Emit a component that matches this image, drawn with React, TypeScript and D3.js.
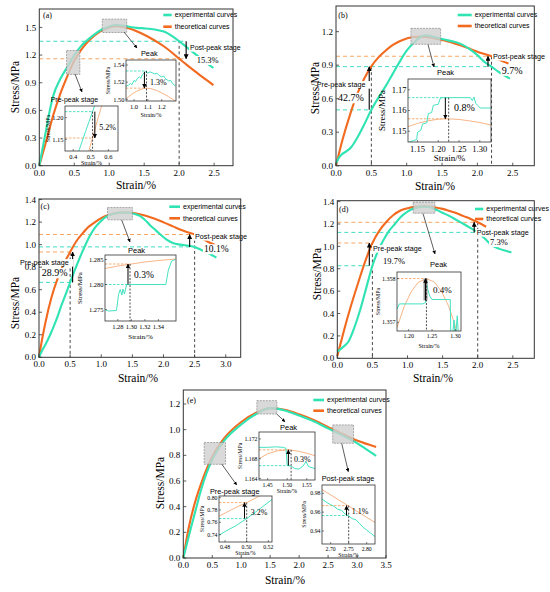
import React from 'react';
import * as d3 from 'd3';

type Pt = [number, number];

// ---------- panel (a) ----------
const expA: Pt[] = [[0,0],[0.05,0.2],[0.1,0.4],[0.15,0.6],[0.2,0.76],[0.3,0.94],[0.4,1.07],[0.5,1.2],[0.6,1.3],[0.7,1.37],[0.8,1.43],[0.9,1.48],[1.0,1.51],[1.1,1.527],[1.2,1.52],[1.3,1.505],[1.4,1.495],[1.5,1.49],[1.6,1.483],[1.7,1.47],[1.8,1.45],[1.9,1.405],[2.0,1.35],[2.1,1.29],[2.2,1.23],[2.3,1.17],[2.4,1.11],[2.49,1.06]];
const theoA: Pt[] = [[0,0],[0.1,0.27],[0.2,0.55],[0.3,0.78],[0.4,0.97],[0.5,1.14],[0.6,1.26],[0.7,1.35],[0.8,1.42],[0.9,1.47],[1.0,1.5],[1.1,1.513],[1.2,1.505],[1.3,1.485],[1.4,1.455],[1.5,1.42],[1.6,1.38],[1.7,1.335],[1.8,1.285],[1.9,1.225],[2.0,1.16],[2.1,1.1],[2.2,1.04],[2.3,0.98],[2.4,0.925],[2.49,0.875]];
const preExpA: Pt[] = [[0.41,1.098],[0.435,1.127],[0.47,1.168],[0.51,1.214],[0.53,1.237]];
const preTheoA: Pt[] = [[0.47,1.097],[0.49,1.125],[0.51,1.153],[0.535,1.19],[0.555,1.218],[0.565,1.232]];
const peakExpA: Pt[] = [[0.942,1.515],[0.96,1.5165],[0.975,1.5185],[0.985,1.517],[1.0,1.522],[1.01,1.5205],[1.025,1.5245],[1.04,1.526],[1.05,1.5245],[1.06,1.529],[1.075,1.531],[1.085,1.5325],[1.1,1.5305],[1.115,1.532],[1.13,1.531],[1.15,1.5295],[1.165,1.5305],[1.18,1.528],[1.2,1.526],[1.215,1.527],[1.23,1.5235],[1.25,1.5215],[1.265,1.522],[1.28,1.518],[1.3,1.5155]];
const peakTheoA: Pt[] = [[0.942,1.5005],[0.98,1.5055],[1.02,1.5095],[1.06,1.5122],[1.09,1.513],[1.12,1.5125],[1.16,1.5105],[1.2,1.5075],[1.25,1.503],[1.303,1.4975]];

// ---------- panel (b) ----------
const expB: Pt[] = [[0,0.02],[0.04,0.07],[0.08,0.1],[0.15,0.13],[0.22,0.17],[0.3,0.25],[0.4,0.37],[0.5,0.5],[0.6,0.61],[0.7,0.71],[0.8,0.82],[0.9,0.93],[1.0,1.03],[1.1,1.1],[1.2,1.155],[1.25,1.166],[1.3,1.165],[1.4,1.15],[1.5,1.135],[1.6,1.12],[1.7,1.105],[1.8,1.08],[1.9,1.04],[2.0,0.99],[2.1,0.93],[2.2,0.887],[2.3,0.84],[2.46,0.78]];
const theoB: Pt[] = [[0,0],[0.05,0.13],[0.1,0.25],[0.2,0.46],[0.3,0.64],[0.4,0.78],[0.5,0.89],[0.6,0.97],[0.7,1.03],[0.8,1.08],[0.9,1.115],[1.0,1.14],[1.1,1.153],[1.22,1.156],[1.3,1.15],[1.4,1.14],[1.5,1.125],[1.6,1.11],[1.7,1.09],[1.8,1.07],[1.9,1.045],[2.0,1.02],[2.1,1.0],[2.2,0.98],[2.3,0.95],[2.44,0.915]];
const peakExpB: Pt[] = [[1.13,1.1448],[1.14,1.1455],[1.148,1.146],[1.15,1.1495],[1.158,1.1505],[1.162,1.1535],[1.172,1.154],[1.176,1.1585],[1.184,1.159],[1.188,1.1625],[1.2,1.163],[1.205,1.166],[1.212,1.1662],[1.277,1.1662],[1.282,1.1648],[1.286,1.1665],[1.29,1.1635],[1.295,1.1625],[1.301,1.1612],[1.326,1.1612]];
const peakTheoB: Pt[] = [[1.127,1.1522],[1.15,1.1538],[1.175,1.155],[1.2,1.1558],[1.22,1.156],[1.25,1.1557],[1.275,1.155],[1.3,1.1542],[1.327,1.153]];

// ---------- panel (c) ----------
const expC: Pt[] = [[0,0],[0.05,0.06],[0.1,0.11],[0.18,0.2],[0.27,0.32],[0.36,0.46],[0.43,0.56],[0.5,0.665],[0.58,0.78],[0.66,0.89],[0.74,0.99],[0.82,1.08],[0.9,1.15],[0.98,1.2],[1.1,1.255],[1.2,1.275],[1.35,1.285],[1.45,1.283],[1.55,1.27],[1.62,1.255],[1.7,1.22],[1.78,1.175],[1.84,1.145],[1.95,1.09],[2.05,1.045],[2.15,1.015],[2.27,1.0],[2.4,0.99],[2.5,0.98],[2.6,0.955],[2.7,0.93],[2.85,0.885]];
const theoC: Pt[] = [[0,0],[0.05,0.16],[0.1,0.3],[0.2,0.53],[0.3,0.7],[0.4,0.83],[0.5,0.935],[0.6,1.03],[0.7,1.1],[0.8,1.16],[0.9,1.2],[1.0,1.235],[1.1,1.26],[1.2,1.275],[1.3,1.284],[1.4,1.285],[1.5,1.282],[1.6,1.272],[1.7,1.258],[1.8,1.24],[1.9,1.22],[2.0,1.198],[2.1,1.175],[2.2,1.15],[2.3,1.127],[2.4,1.107],[2.5,1.09],[2.6,1.06],[2.7,1.03],[2.85,0.99]];
const peakExpC: Pt[] = [[1.262,1.2749],[1.266,1.2747],[1.278,1.2748],[1.281,1.278],[1.2835,1.279],[1.286,1.2779],[1.2875,1.2791],[1.2898,1.2781],[1.293,1.28],[1.351,1.28],[1.3547,1.2829],[1.3596,1.2847],[1.365,1.285]];
const peakTheoC: Pt[] = [[1.261,1.2832],[1.28,1.2837],[1.3,1.2841],[1.32,1.2845],[1.34,1.2848],[1.366,1.2851]];

// ---------- panel (d) ----------
const expD: Pt[] = [[0,0.06],[0.08,0.1],[0.16,0.15],[0.24,0.27],[0.32,0.42],[0.4,0.6],[0.5,0.827],[0.58,0.96],[0.66,1.06],[0.74,1.14],[0.82,1.2],[0.9,1.26],[1.0,1.31],[1.1,1.34],[1.2,1.355],[1.3,1.352],[1.4,1.33],[1.5,1.3],[1.6,1.27],[1.7,1.235],[1.8,1.2],[1.9,1.163],[2.0,1.125],[2.1,1.07],[2.2,1.01],[2.3,0.98],[2.4,0.96],[2.48,0.945]];
const theoD: Pt[] = [[0,0.02],[0.05,0.14],[0.1,0.26],[0.2,0.48],[0.3,0.68],[0.4,0.87],[0.5,1.03],[0.6,1.14],[0.7,1.22],[0.8,1.28],[0.9,1.32],[1.0,1.34],[1.1,1.353],[1.24,1.358],[1.3,1.356],[1.4,1.348],[1.5,1.335],[1.6,1.315],[1.7,1.295],[1.8,1.27],[1.9,1.245],[2.0,1.215],[2.12,1.175]];
const peakExpD: Pt[] = [[1.175,1.3573],[1.18,1.35742],[1.23,1.35742],[1.236,1.35745],[1.238,1.35795],[1.241,1.35775],[1.245,1.3576],[1.25,1.35752],[1.289,1.35752],[1.29,1.3568],[1.293,1.3566],[1.297,1.35705],[1.3,1.3566],[1.304,1.35715],[1.307,1.3566]];
const peakTheoD: Pt[] = [[1.175,1.35688],[1.19,1.35735],[1.205,1.35769],[1.22,1.35791],[1.238,1.358],[1.255,1.35792],[1.27,1.35771],[1.285,1.35738],[1.298,1.35698],[1.305,1.3567]];

// ---------- panel (e) ----------
const expE: Pt[] = [[0,0],[0.1,0.18],[0.2,0.35],[0.3,0.52],[0.4,0.66],[0.5,0.765],[0.7,0.91],[1.0,1.04],[1.25,1.12],[1.5,1.168],[1.75,1.15],[2.0,1.11],[2.25,1.065],[2.5,1.01],[2.75,0.955],[3.0,0.895],[3.15,0.85],[3.33,0.795]];
const theoE: Pt[] = [[0,0],[0.1,0.25],[0.2,0.43],[0.3,0.57],[0.4,0.69],[0.5,0.79],[0.7,0.93],[1.0,1.06],[1.25,1.13],[1.5,1.166],[1.75,1.155],[2.0,1.12],[2.25,1.075],[2.5,1.02],[2.75,0.966],[3.0,0.915],[3.33,0.865]];
const preExpE: Pt[] = [[0.4744,0.739],[0.48,0.745],[0.49,0.7545],[0.5,0.766],[0.51,0.779],[0.5234,0.797]];
const preTheoE: Pt[] = [[0.4744,0.77],[0.48,0.775],[0.49,0.784],[0.5,0.792],[0.51,0.801],[0.52,0.81]];
const peakExpE: Pt[] = [[1.428,1.1703],[1.45,1.1703],[1.47,1.1704],[1.49,1.1703],[1.497,1.1701],[1.5,1.1666],[1.505,1.1666],[1.512,1.1664],[1.52,1.166],[1.53,1.1659],[1.54,1.1665],[1.548,1.1674],[1.555,1.1664],[1.571,1.166]];
const peakTheoE: Pt[] = [[1.428,1.168],[1.45,1.169],[1.475,1.1696],[1.505,1.1698],[1.53,1.1695],[1.55,1.1691],[1.571,1.1686]];
const postExpE: Pt[] = [[2.676,0.974],[2.69,0.97],[2.7,0.968],[2.71,0.966],[2.72,0.963],[2.73,0.962],[2.74,0.958],[2.75,0.956],[2.76,0.953],[2.77,0.952],[2.78,0.948],[2.79,0.944],[2.8,0.941],[2.81,0.938],[2.823,0.934]];
const postTheoE: Pt[] = [[2.676,0.984],[2.75,0.9664],[2.823,0.949]];

const legendNames = ['experimental curves', 'theoretical curves'];

const TEAL = '#2fe3b3';
const ORANGE = '#f26a1f';
const TEAL_DASH = '#3fdcc0';
const ORANGE_DASH = '#f7a766';
const TEAL_IN = '#45e2c2';
const ORANGE_IN = '#f8b587';
const SERIF = '"Liberation Serif","Times New Roman",serif';
const SANS = '"Liberation Sans",Arial,sans-serif';

interface Inset {
  key: string;
  box: [number, number, number, number];
  xDom: [number, number]; yDom: [number, number];
  xTicks: number[]; yTicks: number[]; xFmt: string; yFmt: string;
  exp: Pt[]; theo: Pt[];
  expLevel: number | null; theoLevel: number;
  markX: number;
  arrow: [number, number, number];
  shade?: boolean;
  pct: string; pctPos: [number, number]; pctFs: number;
  tickFs: number; labFs: number; yLabX: number; xLabY: number;
}

interface Label { t: string; x: number; y: number; fs: number; sans?: boolean; bg?: boolean }

interface PanelCfg {
  tag: string; tagPos: [number, number];
  box: [number, number, number, number];
  xDom: [number, number]; yDom: [number, number];
  xTicks: number[]; yTicks: number[];
  exp: Pt[]; theo: Pt[];
  levels: { y: number; x1: number; c: 'e' | 't' }[];
  marks: { x: number; top: number }[];
  arrows: [number, number, number][];
  boxes: [number, number, number, number][];
  pointers: [number, number, number, number][];
  labels: Label[];
  legend: [number, number, number, number]; // x0, x1, y, dy
  xTitle: [number, number]; yTitle: [number, number];
  insets: Inset[];
}

const panels: PanelCfg[] = [
  {
    tag: '(a)', tagPos: [43, 18], box: [39.3, 9, 233, 165.7], xDom: [0, 2.77], yDom: [0, 1.7],
    xTicks: [0, 0.5, 1, 1.5, 2, 2.5], yTicks: [0, 0.3, 0.6, 0.9, 1.2, 1.5],
    exp: expA, theo: theoA,
    levels: [{ y: 1.35, x1: 2.1, c: 'e' }, { y: 1.16, x1: 2.1, c: 't' }],
    marks: [{ x: 2.0, top: 1.36 }],
    arrows: [[2.1, 1.35, 1.16]],
    boxes: [[0.39, 0.58, 0.99, 1.25], [0.9, 1.25, 1.445, 1.59]],
    pointers: [[75, 74, 82, 92], [124, 32, 137, 48]],
    labels: [
      { t: 'Pre-peak stage', x: 50.7, y: 102, fs: 7, sans: true },
      { t: 'Peak', x: 141, y: 56, fs: 7.3, sans: true },
      { t: 'Post-peak stage', x: 190, y: 50, fs: 7, sans: true, bg: true },
      { t: '15.3%', x: 196.7, y: 63, fs: 8.5, bg: true },
    ],
    legend: [163.3, 171.7, 15, 11.7], xTitle: [136, 189], yTitle: [15, 87],
    insets: [
      {
        key: 'a1', box: [65, 106, 118, 151], xDom: [0.353, 0.655], yDom: [1.123, 1.227],
        xTicks: [0.4, 0.5, 0.6], yTicks: [1.15, 1.2], xFmt: '.1f', yFmt: '.2f',
        exp: preExpA, theo: preTheoA, expLevel: 1.214, theoLevel: 1.153, markX: 0.51,
        arrow: [0.523, 1.214, 1.153], pct: '5.2%', pctPos: [99.3, 130], pctFs: 8,
        tickFs: 6.5, labFs: 6, yLabX: 48, xLabY: 165,
      },
      {
        key: 'a2', box: [126, 60, 176, 101], xDom: [0.942, 1.303], yDom: [1.498, 1.5458],
        xTicks: [1.0, 1.1, 1.2], yTicks: [1.5, 1.52, 1.54], xFmt: '.1f', yFmt: '.2f',
        exp: peakExpA, theo: peakTheoA, expLevel: 1.533, theoLevel: 1.513, markX: 1.09,
        arrow: [1.075, 1.532, 1.513], pct: '1.3%', pctPos: [150, 85], pctFs: 8,
        tickFs: 6.5, labFs: 6, yLabX: 108, xLabY: 117,
      },
    ],
  },
  {
    tag: '(b)', tagPos: [338.3, 18], box: [336, 6, 534.3, 165.7], xDom: [0, 2.805], yDom: [0, 1.43],
    xTicks: [0, 0.5, 1, 1.5, 2, 2.5], yTicks: [0, 0.3, 0.6, 0.9, 1.2],
    exp: expB, theo: theoB,
    levels: [{ y: 0.98, x1: 2.2, c: 't' }, { y: 0.887, x1: 2.2, c: 'e' }, { y: 0.5, x1: 0.5, c: 'e' }],
    marks: [{ x: 0.5, top: 0.887 }, { x: 2.2, top: 0.98 }],
    arrows: [[0.47, 0.5, 0.887], [2.15, 0.887, 0.98]],
    boxes: [[1.06, 1.48, 1.087, 1.23]],
    pointers: [[428, 44.5, 434, 67]],
    labels: [
      { t: 'Pre-peak stage', x: 316.7, y: 87, fs: 7.2, sans: true, bg: true },
      { t: '42.7%', x: 338, y: 101, fs: 10, bg: true },
      { t: 'Peak', x: 437, y: 75, fs: 7.5, sans: true },
      { t: 'Post-peak stage', x: 493, y: 59, fs: 7.2, sans: true, bg: true },
      { t: '9.7%', x: 501.7, y: 73.5, fs: 10, bg: true },
    ],
    legend: [457.7, 471.7, 15, 11], xTitle: [435, 190], yTitle: [315, 88],
    insets: [
      {
        key: 'b1', box: [408, 79, 491, 142], xDom: [1.127, 1.327], yDom: [1.1448, 1.1752],
        xTicks: [1.15, 1.2, 1.25, 1.3], yTicks: [1.15, 1.16, 1.17], xFmt: '.2f', yFmt: '.2f',
        exp: peakExpB, theo: peakTheoB, expLevel: 1.1662, theoLevel: 1.156, markX: 1.225,
        arrow: [1.217, 1.1662, 1.156], pct: '0.8%', pctPos: [454, 111], pctFs: 10,
        tickFs: 8.5, labFs: 9, yLabX: 382, xLabY: 161,
      },
    ],
  },
  {
    tag: '(c)', tagPos: [40.5, 209], box: [39, 199, 240.7, 357.3], xDom: [0, 3.24], yDom: [0, 1.405],
    xTicks: [0, 0.5, 1, 1.5, 2, 2.5, 3], yTicks: [0, 0.2, 0.4, 0.6, 0.8, 1.0, 1.2, 1.4],
    exp: expC, theo: theoC,
    levels: [{ y: 1.09, x1: 2.5, c: 't' }, { y: 0.98, x1: 2.5, c: 'e' }, { y: 0.935, x1: 0.5, c: 't' }, { y: 0.665, x1: 0.5, c: 'e' }],
    marks: [{ x: 0.5, top: 0.935 }, { x: 2.5, top: 1.09 }],
    arrows: [[0.54, 0.665, 0.935], [2.42, 0.98, 1.09]],
    boxes: [[1.1, 1.5, 1.22, 1.33]],
    pointers: [[121.7, 220, 130, 242]],
    labels: [
      { t: 'Pre-peak stage', x: 20, y: 265, fs: 7.2, sans: true, bg: true },
      { t: '28.9%', x: 41.7, y: 276, fs: 10, bg: true },
      { t: 'Peak', x: 128, y: 253, fs: 7.5, sans: true },
      { t: 'Post-peak stage', x: 195, y: 239, fs: 7.2, sans: true, bg: true },
      { t: '10.1%', x: 204, y: 252, fs: 9.5, bg: true },
    ],
    legend: [169.3, 180, 206.7, 11.6], xTitle: [138, 382], yTitle: [15, 303],
    insets: [
      {
        key: 'c1', box: [105, 255, 176, 321], xDom: [1.261, 1.366], yDom: [1.2727, 1.2859],
        xTicks: [1.28, 1.3, 1.32, 1.34], yTicks: [1.275, 1.28, 1.285], xFmt: '.2f', yFmt: '.3f',
        exp: peakExpC, theo: peakTheoC, expLevel: 1.28, theoLevel: 1.2841, markX: 1.298,
        arrow: [1.295, 1.28, 1.2841], pct: '0.3%', pctPos: [134, 278], pctFs: 9.5,
        tickFs: 6.5, labFs: 7, yLabX: 80, xLabY: 339,
      },
    ],
  },
  {
    tag: '(d)', tagPos: [339, 212], box: [337.3, 200.7, 534.3, 358.3], xDom: [0, 2.806], yDom: [0, 1.408],
    xTicks: [0, 0.5, 1, 1.5, 2, 2.5], yTicks: [0, 0.2, 0.4, 0.6, 0.8, 1.0, 1.2, 1.4],
    exp: expD, theo: theoD,
    levels: [{ y: 1.215, x1: 2.0, c: 't' }, { y: 1.125, x1: 2.0, c: 'e' }, { y: 1.03, x1: 0.5, c: 't' }, { y: 0.827, x1: 0.5, c: 'e' }],
    marks: [{ x: 0.5, top: 1.03 }, { x: 2.0, top: 1.215 }],
    arrows: [[0.456, 0.827, 1.03], [1.95, 1.125, 1.215]],
    boxes: [[1.08, 1.39, 1.296, 1.394]],
    pointers: [[423, 213.5, 435, 254]],
    labels: [
      { t: 'Pre-peak stage', x: 373, y: 251, fs: 7.2, sans: true, bg: true },
      { t: '19.7%', x: 383, y: 264, fs: 8.5, bg: true },
      { t: 'Peak', x: 430, y: 267, fs: 7.5, sans: true },
      { t: 'Post-peak stage', x: 476.7, y: 235, fs: 7.2, sans: true, bg: true },
      { t: '7.3%', x: 490, y: 245, fs: 8.5, bg: true },
    ],
    legend: [475, 483.3, 209, 10], xTitle: [433, 382], yTitle: [317, 274],
    insets: [
      {
        key: 'd1', box: [397, 272, 461, 331], xDom: [1.175, 1.312], yDom: [1.3568, 1.35815],
        xTicks: [1.2, 1.25, 1.3], yTicks: [1.357, 1.358], xFmt: '.2f', yFmt: '.3f',
        exp: peakExpD, theo: peakTheoD, expLevel: null, theoLevel: 1.358, markX: 1.238,
        arrow: [1.236, 1.3575, 1.358], shade: true, pct: '0.4%', pctPos: [433, 293], pctFs: 9,
        tickFs: 6, labFs: 6, yLabX: 378, xLabY: 348,
      },
    ],
  },
  {
    tag: '(e)', tagPos: [187, 403], box: [183.3, 390, 386, 558], xDom: [0, 3.5], yDom: [0, 1.309],
    xTicks: [0, 0.5, 1, 1.5, 2, 2.5, 3, 3.5], yTicks: [0, 0.2, 0.4, 0.6, 0.8, 1.0, 1.2],
    exp: expE, theo: theoE,
    levels: [], marks: [], arrows: [],
    boxes: [[0.36, 0.73, 0.73, 0.9], [1.27, 1.615, 1.122, 1.226], [2.58, 2.94, 0.894, 1.037]],
    pointers: [[221.7, 464, 236.7, 485], [276.7, 414, 285, 421.7], [341.7, 443.3, 348.3, 471.7]],
    labels: [
      { t: 'Pre-peak stage', x: 210, y: 494, fs: 7.3, sans: true },
      { t: 'Peak', x: 280, y: 430, fs: 7.5, sans: true },
      { t: 'Post-peak stage', x: 321.7, y: 481, fs: 7.3, sans: true },
    ],
    legend: [313.3, 324, 400, 10.7], xTitle: [285, 584], yTitle: [160, 483],
    insets: [
      {
        key: 'e1', box: [219, 496, 272, 542], xDom: [0.4744, 0.5234], yDom: [0.728, 0.8027],
        xTicks: [0.48, 0.5, 0.52], yTicks: [0.74, 0.76, 0.78, 0.8], xFmt: '.2f', yFmt: '.2f',
        exp: preExpE, theo: preTheoE, expLevel: 0.766, theoLevel: 0.792, markX: 0.5,
        arrow: [0.498, 0.766, 0.792], pct: '3.2%', pctPos: [250.7, 515], pctFs: 8,
        tickFs: 5.8, labFs: 5.8, yLabX: 202, xLabY: 555,
      },
      {
        key: 'e2', box: [259, 432, 315, 480], xDom: [1.428, 1.571], yDom: [1.1637, 1.1734],
        xTicks: [1.45, 1.5, 1.55], yTicks: [1.164, 1.168, 1.172], xFmt: '.2f', yFmt: '.3f',
        exp: peakExpE, theo: peakTheoE, expLevel: 1.1666, theoLevel: 1.1698, markX: 1.51,
        arrow: [1.503, 1.1666, 1.1698], pct: '0.3%', pctPos: [294, 462], pctFs: 8,
        tickFs: 5.8, labFs: 5.8, yLabX: 240, xLabY: 493,
      },
      {
        key: 'e3', box: [322, 485, 375, 544], xDom: [2.676, 2.823], yDom: [0.9262, 0.9888],
        xTicks: [2.7, 2.75, 2.8], yTicks: [0.94, 0.96, 0.98], xFmt: '.2f', yFmt: '.2f',
        exp: postExpE, theo: postTheoE, expLevel: 0.9564, theoLevel: 0.9669, markX: 2.75,
        arrow: [2.744, 0.9564, 0.9669], pct: '1.1%', pctPos: [351.7, 514], pctFs: 8,
        tickFs: 5.8, labFs: 5.8, yLabX: 304, xLabY: 557,
      },
    ],
  },
];

const InsetView = ({ c }: { c: Inset }) => {
  const [x0, y0, x1, y1] = c.box;
  const x = d3.scaleLinear().domain(c.xDom).range([x0, x1]);
  const y = d3.scaleLinear().domain(c.yDom).range([y1, y0]);
  const line = d3.line<Pt>().x(d => x(d[0])).y(d => y(d[1]));
  const top = Math.max(c.theoLevel, c.expLevel ?? -Infinity);
  const fx = d3.format(c.xFmt);
  const fy = d3.format(c.yFmt);
  const clip = `clip-${c.key}`;
  return (
    <g>
      <defs>
        <clipPath id={clip}><rect x={x0} y={y0} width={x1 - x0} height={y1 - y0} /></clipPath>
      </defs>
      <rect x={x0} y={y0} width={x1 - x0} height={y1 - y0} fill="#fff" />
      <g clipPath={`url(#${clip})`}>
        {c.expLevel !== null && (
          <line x1={x0} x2={x(c.markX)} y1={y(c.expLevel)} y2={y(c.expLevel)} stroke={TEAL_DASH} strokeWidth={0.9} strokeDasharray="2.5,1.5" />
        )}
        <line x1={x0} x2={x(c.markX)} y1={y(c.theoLevel)} y2={y(c.theoLevel)} stroke={ORANGE_DASH} strokeWidth={0.9} strokeDasharray="2.5,1.5" />
        <path d={line(c.theo) ?? ''} fill="none" stroke={ORANGE_IN} strokeWidth={1} />
        <path d={line(c.exp) ?? ''} fill="none" stroke={TEAL_IN} strokeWidth={1} />
        {c.shade && (
          <rect x={x(c.arrow[0]) - 2} y={y(c.arrow[2])} width={4} height={y(c.arrow[1]) - y(c.arrow[2])} fill="#999" />
        )}
        <line x1={x(c.markX)} x2={x(c.markX)} y1={y(top)} y2={y1} stroke="#222" strokeWidth={0.8} strokeDasharray="2,1.5" />
        <line x1={x(c.arrow[0])} x2={x(c.arrow[0])} y1={y(c.arrow[1])} y2={y(c.arrow[2])} stroke="#000" strokeWidth={1} markerEnd="url(#ah)" />
      </g>
      <rect x={x0} y={y0} width={x1 - x0} height={y1 - y0} fill="none" stroke="#333" strokeWidth={0.8} />
      {c.xTicks.map(t => (
        <g key={`x${t}`}>
          <line x1={x(t)} x2={x(t)} y1={y1} y2={y1 - 2} stroke="#333" strokeWidth={0.6} />
          <text x={x(t)} y={y1 + c.tickFs + 1} textAnchor="middle" fontSize={c.tickFs} fontFamily={SERIF}>{fx(t)}</text>
        </g>
      ))}
      {c.yTicks.map(t => (
        <g key={`y${t}`}>
          <line x1={x0} x2={x0 + 2} y1={y(t)} y2={y(t)} stroke="#333" strokeWidth={0.6} />
          <text x={x0 - 1.5} y={y(t)} dy="0.35em" textAnchor="end" fontSize={c.tickFs} fontFamily={SERIF}>{fy(t)}</text>
        </g>
      ))}
      <text x={(x0 + x1) / 2} y={c.xLabY} textAnchor="middle" fontSize={c.labFs} fontFamily={SERIF}>Strain/%</text>
      <text transform={`translate(${c.yLabX},${(y0 + y1) / 2}) rotate(-90)`} textAnchor="middle" dy="0.35em" fontSize={c.labFs} fontFamily={SERIF}>Stress/MPa</text>
      <text x={c.pctPos[0]} y={c.pctPos[1]} fontSize={c.pctFs} fontFamily={SERIF}>{c.pct}</text>
    </g>
  );
};

const PanelView = ({ p }: { p: PanelCfg }) => {
  const [x0, y0, x1, y1] = p.box;
  const x = d3.scaleLinear().domain(p.xDom).range([x0, x1]);
  const y = d3.scaleLinear().domain(p.yDom).range([y1, y0]);
  const line = d3.line<Pt>().x(d => x(d[0])).y(d => y(d[1])).curve(d3.curveMonotoneX);
  const f1 = d3.format('.1f');
  const [lx0, lx1, ly, ldy] = p.legend;
  return (
    <g>
      {p.levels.map((l, i) => (
        <line key={`l${i}`} x1={x0} x2={x(l.x1)} y1={y(l.y)} y2={y(l.y)}
          stroke={l.c === 'e' ? TEAL_DASH : ORANGE_DASH} strokeWidth={1} strokeDasharray="4,3" />
      ))}
      {p.marks.map((m, i) => (
        <line key={`m${i}`} x1={x(m.x)} x2={x(m.x)} y1={y(m.top)} y2={y1} stroke="#333" strokeWidth={0.9} strokeDasharray="3,2.5" />
      ))}
      <path d={line(p.theo) ?? ''} fill="none" stroke={ORANGE} strokeWidth={2.1} />
      <path d={line(p.exp) ?? ''} fill="none" stroke={TEAL} strokeWidth={2.1} />
      {p.boxes.map((b, i) => (
        <rect key={`b${i}`} x={x(b[0])} y={y(b[3])} width={x(b[1]) - x(b[0])} height={y(b[2]) - y(b[3])}
          fill="#cfcfcf" fillOpacity={0.8} stroke="#8a8a8a" strokeWidth={0.7} strokeDasharray="2,1" />
      ))}
      {p.arrows.map((a, i) => (
        <line key={`a${i}`} x1={x(a[0])} x2={x(a[0])} y1={y(a[1])} y2={y(a[2])} stroke="#000" strokeWidth={1.1} markerEnd="url(#ah)" />
      ))}
      {p.pointers.map((q, i) => (
        <line key={`p${i}`} x1={q[0]} y1={q[1]} x2={q[2]} y2={q[3]} stroke="#333" strokeWidth={0.8} markerEnd="url(#ah)" />
      ))}
      {p.insets.map(c => <InsetView key={c.key} c={c} />)}
      {p.labels.map((l, i) => {
        const w = l.t.length * l.fs * (l.sans ? 0.52 : 0.5);
        return (
          <g key={`t${i}`}>
            {l.bg && <rect x={l.x - 1} y={l.y - l.fs * 0.82} width={w + 2} height={l.fs * 1.05} fill="#fff" />}
            <text x={l.x} y={l.y} fontSize={l.fs} fontFamily={l.sans ? SANS : SERIF}>{l.t}</text>
          </g>
        );
      })}
      {legendNames.map((n, i) => (
        <g key={n}>
          <line x1={lx0} x2={lx1} y1={ly + i * ldy} y2={ly + i * ldy} stroke={i === 0 ? TEAL : ORANGE} strokeWidth={2.6} />
          <text x={lx1 + 3} y={ly + i * ldy} dy="0.35em" fontSize={7} fontFamily={SANS}>{n}</text>
        </g>
      ))}
      <text x={p.tagPos[0]} y={p.tagPos[1]} fontSize={8} fontFamily={SERIF}>{p.tag}</text>
      <rect x={x0} y={y0} width={x1 - x0} height={y1 - y0} fill="none" stroke="#333" strokeWidth={1} />
      {p.xTicks.map(t => (
        <g key={`x${t}`}>
          <line x1={x(t)} x2={x(t)} y1={y1} y2={y1 - 3} stroke="#333" strokeWidth={0.8} />
          <text x={x(t)} y={y1 + 10} textAnchor="middle" fontSize={9} fontFamily={SERIF}>{f1(t)}</text>
        </g>
      ))}
      {p.yTicks.map(t => (
        <g key={`y${t}`}>
          <line x1={x0} x2={x0 + 3} y1={y(t)} y2={y(t)} stroke="#333" strokeWidth={0.8} />
          <text x={x0 - 3} y={y(t)} dy="0.35em" textAnchor="end" fontSize={9} fontFamily={SERIF}>{f1(t)}</text>
        </g>
      ))}
      <text x={p.xTitle[0]} y={p.xTitle[1]} textAnchor="middle" fontSize={11.5} fontFamily={SERIF}>Strain/%</text>
      <text transform={`translate(${p.yTitle[0]},${p.yTitle[1]}) rotate(-90)`} textAnchor="middle" dy="0.35em" fontSize={11.5} fontFamily={SERIF}>Stress/MPa</text>
    </g>
  );
};

const App = () => (
  <div style={{ position: 'absolute', left: 0, top: 0 }}>
    <svg width={550} height={592} viewBox="0 0 550 592" style={{ display: 'block', background: '#fff' }}>
      <defs>
        <marker id="ah" viewBox="0 0 6 6" refX={5.5} refY={3} markerWidth={4.5} markerHeight={4.5} orient="auto">
          <path d="M0,0L6,3L0,6Z" fill="#000" />
        </marker>
      </defs>
      {panels.map(p => <PanelView key={p.tag} p={p} />)}
    </svg>
  </div>
);

export default App;
